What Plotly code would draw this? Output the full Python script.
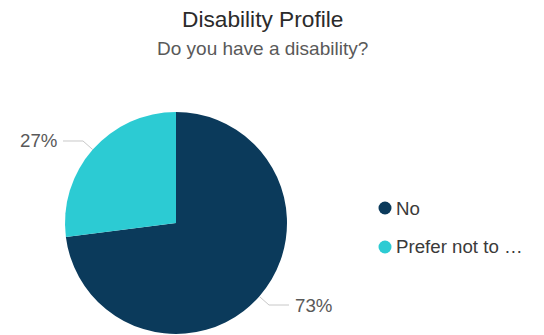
import math
import plotly.graph_objects as go

# Survey answers
categories = ["No", "Prefer not to say"]
shares = [73, 27]
colors = ["#0b3a5b", "#2ccbd3"]
legend_names = ["No", "Prefer not to \u2026"]

W, H = 544, 335
# pie geometry in pixels
cx, cy, r = 176, 223, 111


def px(x):
    return x / W


def py(y):
    return 1 - y / H


fig = go.Figure()
fig.add_trace(go.Pie(
    labels=categories,
    values=shares,
    sort=False,
    direction="clockwise",
    rotation=0,
    marker=dict(colors=colors, line=dict(width=0)),
    textinfo="none",
    hoverinfo="label+percent",
    showlegend=False,
    domain=dict(x=[px(cx - r), px(cx + r)], y=[py(cy + r), py(cy - r)]),
))

shapes = []
annotations = []

# outside labels with elbow leader lines, placed at each slice's mid-angle
total = sum(shares)
start = 0.0
for val in shares:
    frac = val / total
    mid = (start + frac / 2) * 2 * math.pi
    start += frac
    sx, sy = math.sin(mid), -math.cos(mid)
    ex, ey = cx + r * sx, cy + r * sy
    bx, by = cx + (r + 13) * sx, cy + (r + 13) * sy
    side = 1 if sx >= 0 else -1
    hx = bx + side * 20
    line = dict(color="#c8c8c8", width=1)
    shapes.append(dict(type="line", xref="paper", yref="paper",
                       x0=px(ex), y0=py(ey), x1=px(bx), y1=py(by), line=line))
    shapes.append(dict(type="line", xref="paper", yref="paper",
                       x0=px(bx), y0=py(by), x1=px(hx), y1=py(by), line=line))
    annotations.append(dict(
        text=f"{val}%", xref="paper", yref="paper",
        x=px(hx + side * 4), y=py(by),
        xanchor="left" if side > 0 else "right", yanchor="middle",
        showarrow=False, font=dict(size=18.7, color="#595959"),
    ))

# legend with round markers
leg_x, leg_y0, leg_gap = 385, 208, 39
for i, (name, col) in enumerate(zip(legend_names, colors)):
    ly = leg_y0 + i * leg_gap
    shapes.append(dict(type="circle", xref="paper", yref="paper",
                       x0=px(leg_x - 6.5), x1=px(leg_x + 6.5),
                       y0=py(ly + 6.5), y1=py(ly - 6.5),
                       fillcolor=col, line=dict(width=0)))
    annotations.append(dict(
        text=name, xref="paper", yref="paper",
        x=px(leg_x + 9), y=py(ly), xanchor="left", yanchor="middle",
        showarrow=False, font=dict(size=18.7, color="#3a3a3a"),
    ))

# title and subtitle
annotations.append(dict(text="Disability Profile", xref="paper", yref="paper",
                        x=px(262), y=py(19), xanchor="center", yanchor="middle",
                        showarrow=False, font=dict(size=22.7, color="#2b2b2b")))
annotations.append(dict(text="Do you have a disability?", xref="paper", yref="paper",
                        x=px(262), y=py(48), xanchor="center", yanchor="middle",
                        showarrow=False, font=dict(size=19, color="#595959")))

fig.update_layout(
    width=W, height=H,
    margin=dict(l=0, r=0, t=0, b=0),
    paper_bgcolor="white",
    plot_bgcolor="white",
    font=dict(family="Liberation Sans, Arial, sans-serif"),
    shapes=shapes,
    annotations=annotations,
    showlegend=False,
)

fig.write_html("out.html")
